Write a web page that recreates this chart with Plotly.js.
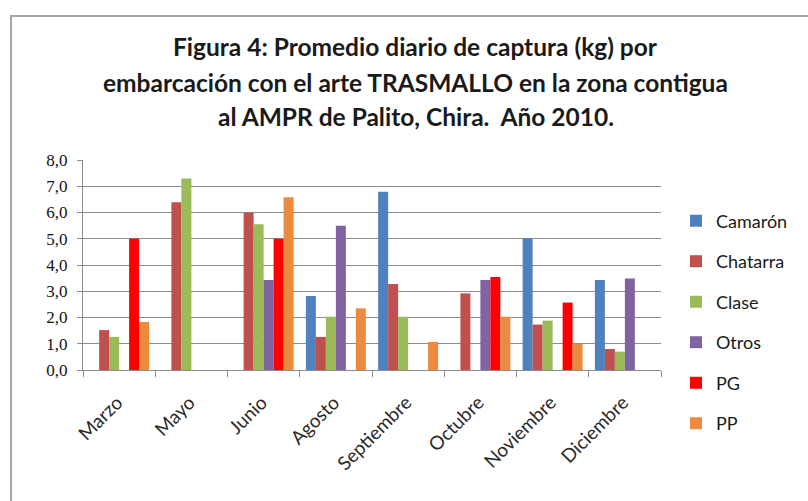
<!DOCTYPE html>
<html>
<head>
<meta charset="utf-8">
<script src="https://cdn.plot.ly/plotly-3.0.1.min.js"></script>
<style>
html,body{margin:0;padding:0;background:#fff;overflow:hidden;}
#frame{position:absolute;left:10px;top:15px;width:820px;height:520px;border:2px solid #a6a6a6;box-sizing:border-box;pointer-events:none;}
#chart{position:absolute;left:0;top:0;width:808px;height:501px;}
</style>
</head>
<body>
<div id="chart"></div>
<div id="frame"></div>
<script>
const months = ["Marzo","Mayo","Junio","Agosto","Septiembre","Octubre","Noviembre","Diciembre"];
const camaron  = [0,    0,    0,    2.82, 6.79, 0,    5.02, 3.43];
const chatarra = [1.52, 6.39, 5.99, 1.26, 3.28, 2.92, 1.73, 0.80];
const clase    = [1.26, 7.30, 5.55, 2.03, 2.03, 0,    1.88, 0.70];
const otros    = [0,    0,    3.43, 5.50, 0,    3.43, 0,    3.49];
const pg       = [5.00, 0,    5.00, 0,    0,    3.54, 2.57, 0];
const pp       = [1.83, 0,    6.58, 2.35, 1.07, 2.03, 1.00, 0];
const yTicks = [0,1,2,3,4,5,6,7,8];
const titleLines = [
  "Figura 4: Promedio diario de captura (kg) por",
  "embarcación con el arte TRASMALLO en la zona contigua",
  "al AMPR de Palito, Chira.  Año 2010."
];

const series = [
  {name:"Camarón", y:camaron, color:"#4F81BD"},
  {name:"Chatarra", y:chatarra, color:"#C0504D"},
  {name:"Clase", y:clase, color:"#9BBB59"},
  {name:"Otros", y:otros, color:"#8064A2"},
  {name:"PG", y:pg, color:"#FF0000"},
  {name:"PP", y:pp, color:"#EC8B3F"}
];

// plot area: x 83..661, y 160..370
const PL = 83, PW = 578, PT = 160, PH = 210;
const px2x = p => (p - PL) / PW;
const py2y = p => (PT + PH - p) / PH;

const legendFont = {family:"Lato, 'Open Sans', sans-serif", size:18, color:"#1a1a1a"};
const legendCenters = [221, 261.5, 302, 342.5, 383, 423.5];

const data = series.map((s, i) => ({
  type:"bar", name:s.name, x:months, y:s.y,
  legend: i === 0 ? "legend" : "legend" + (i + 1),
  marker:{color:s.color, line:{width:0}}
}));

const titleY = [47, 82, 116];
const annotations = titleLines.map((t,i) => ({
  text:t, xref:"paper", yref:"paper", x:px2x(415.5),
  y:py2y(titleY[i]), xanchor:"center", yanchor:"middle", showarrow:false,
  font:{family:"Lato, 'Open Sans', sans-serif", size:24.5, color:"#1a1a1a", weight:"bold"}
}));

const layout = {
  width:808, height:501,
  margin:{l:PL, r:808 - PL - PW, t:PT, b:501 - PT - PH, pad:0},
  paper_bgcolor:"#ffffff", plot_bgcolor:"#ffffff",
  separators:",.",
  showlegend:true,
  barmode:"group", bargap:0.17, bargroupgap:0,
  annotations:annotations,
  xaxis:{
    type:"category", tickangle:-45,
    ticks:"outside", tickson:"boundaries", ticklen:6, tickcolor:"#8c8c8c", tickwidth:1,
    showline:true, linecolor:"#8c8c8c", linewidth:1,
    ticklabelshift:-2, ticklabelstandoff:13,
    tickfont:{family:"Lato, 'Open Sans', sans-serif", size:19, color:"#2a2a2a"},
    showgrid:false, zeroline:false
  },
  yaxis:{
    range:[0,8], tickvals:yTicks, tickformat:".1f",
    ticks:"outside", ticklen:5, tickcolor:"#8c8c8c",
    showline:true, linecolor:"#8c8c8c", linewidth:1,
    showgrid:true, gridcolor:"#8c8c8c", gridwidth:1, zeroline:false,
    ticklabelstandoff:6,
    tickfont:{family:"'Liberation Serif', 'Times New Roman', serif", size:17, color:"#111111"}
  }
};
legendCenters.forEach((c, i) => {
  const key = i === 0 ? "legend" : "legend" + (i + 1);
  layout[key] = {
    x:px2x(676), xanchor:"left", y:py2y(c), yanchor:"middle",
    itemwidth:30, font:legendFont, bgcolor:"rgba(0,0,0,0)", borderwidth:0
  };
});
Plotly.newPlot("chart", data, layout, {displayModeBar:false, staticPlot:true});
</script>
</body>
</html>
